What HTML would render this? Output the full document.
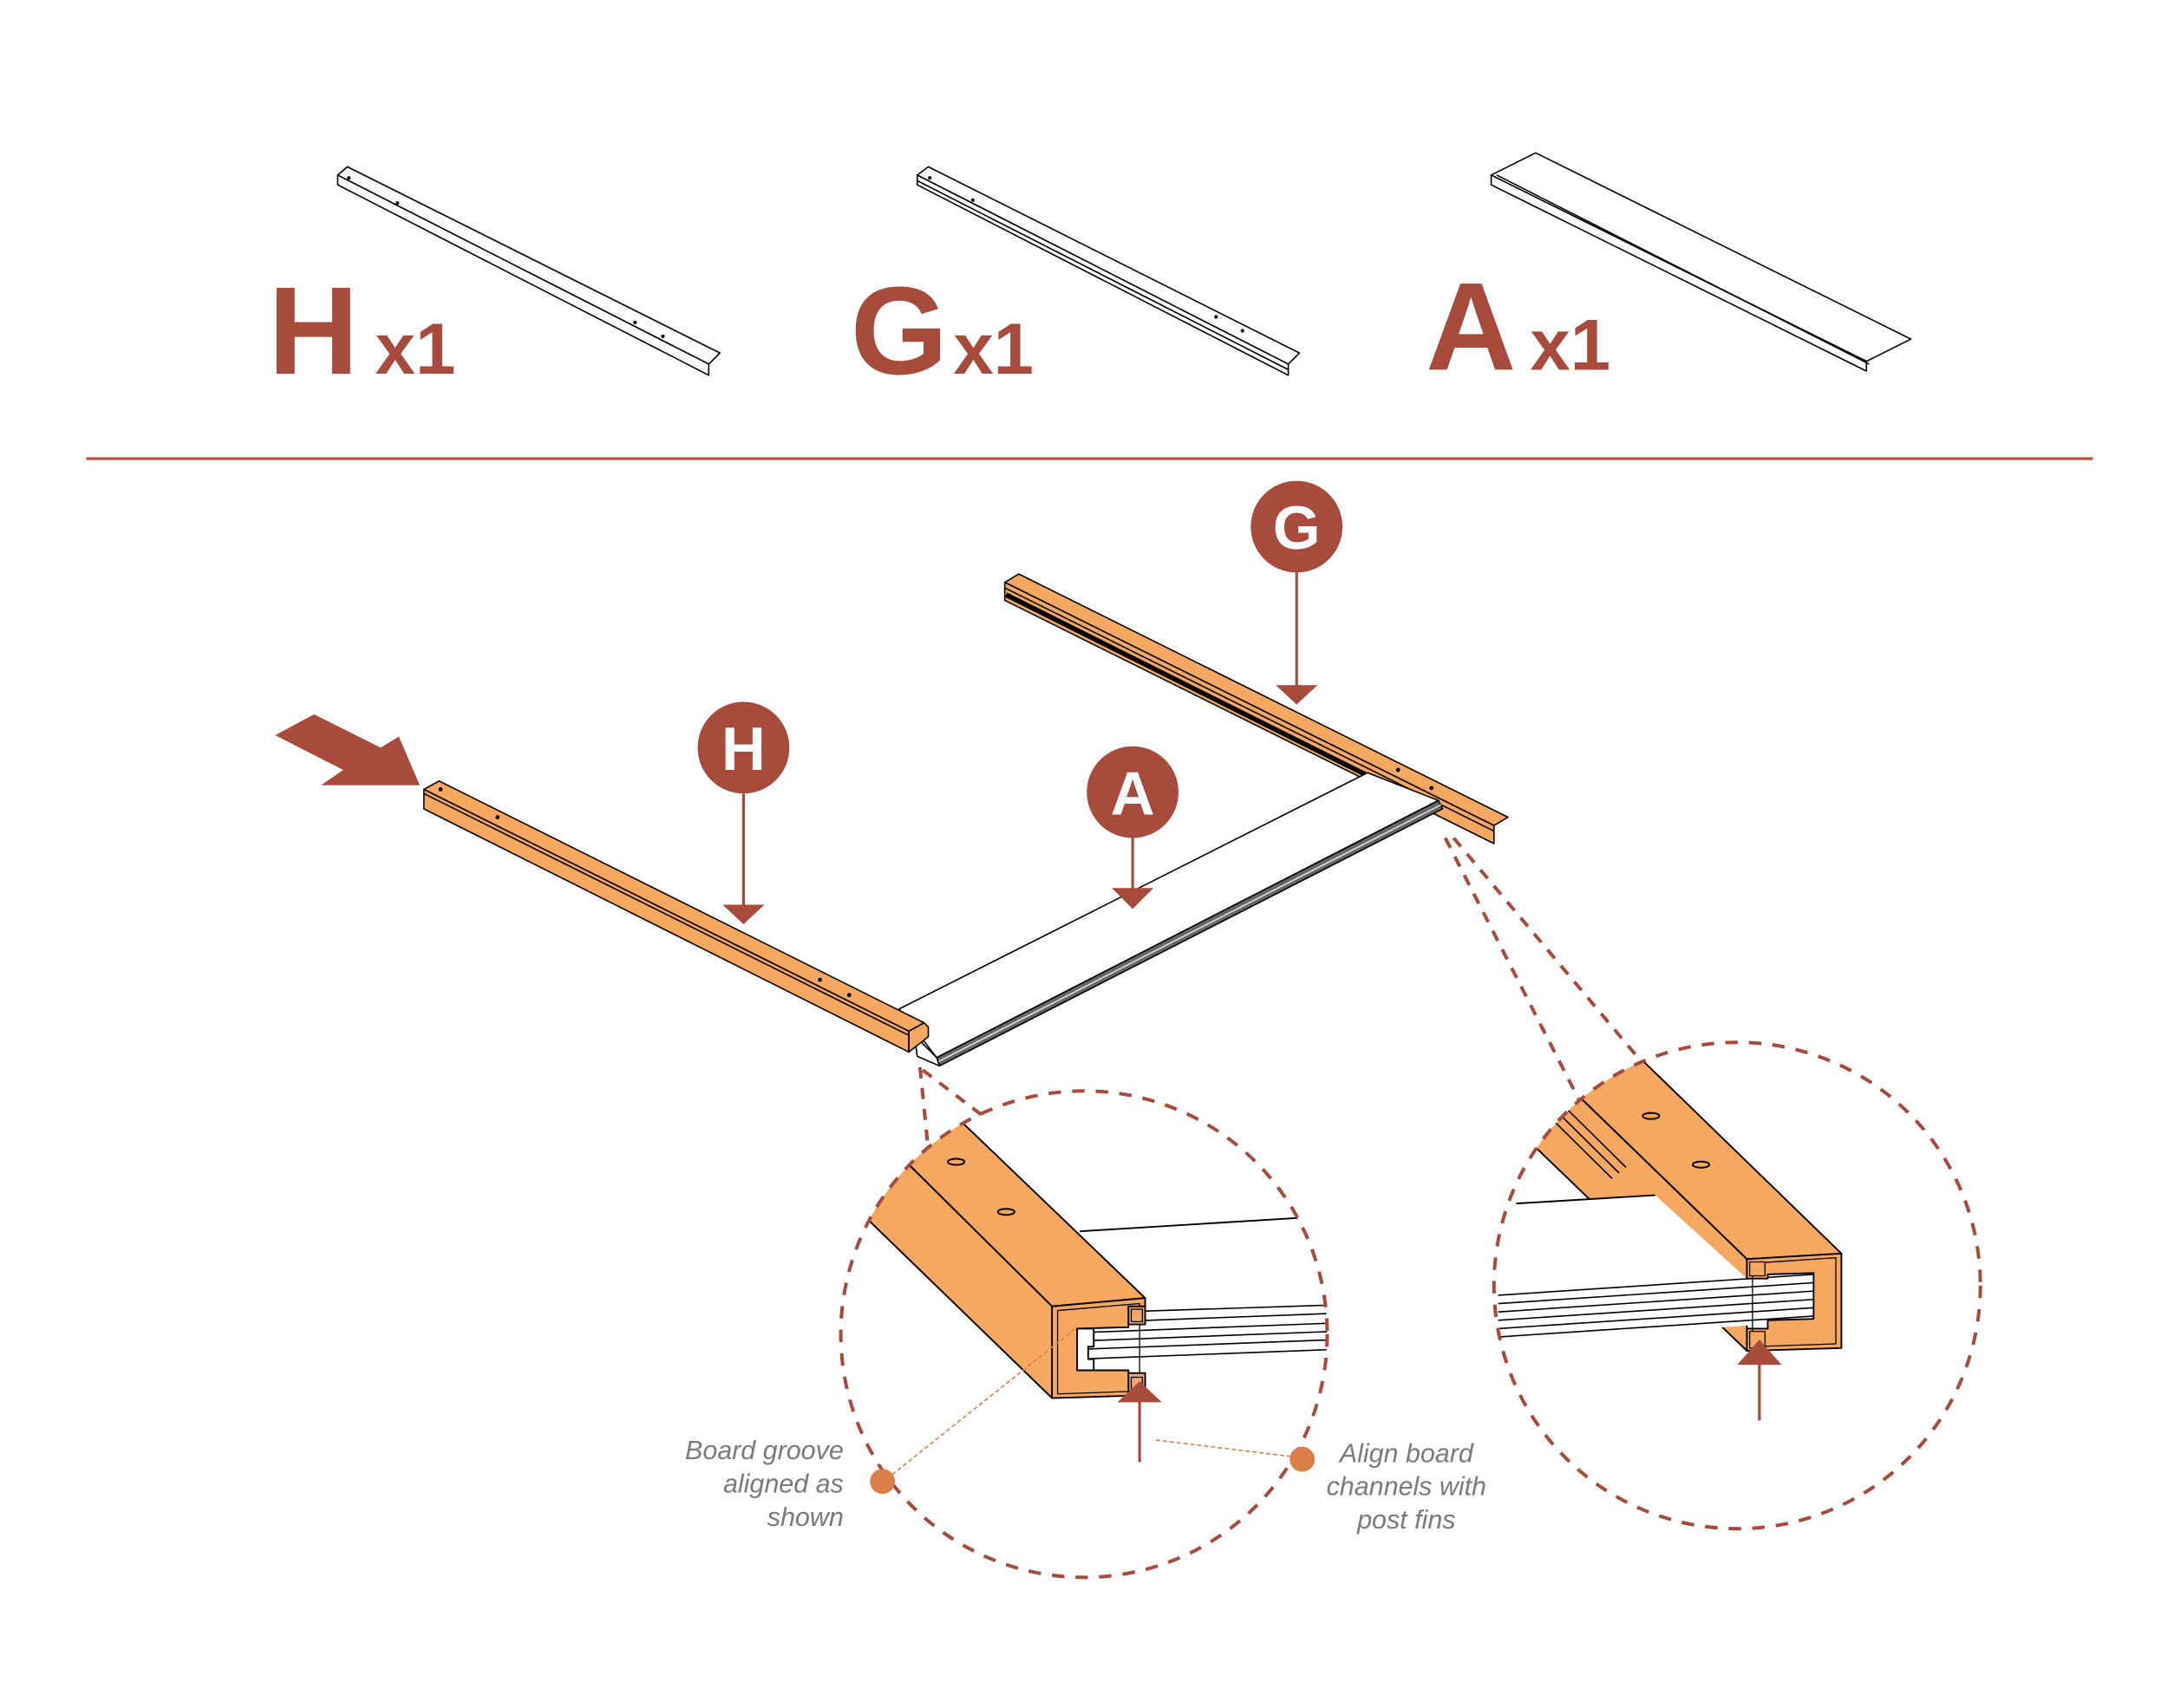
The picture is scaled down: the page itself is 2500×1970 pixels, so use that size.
<!DOCTYPE html>
<html><head><meta charset="utf-8"><style>
html,body{margin:0;padding:0;background:#fff;}
svg{display:block;}
</style></head><body>
<svg width="2500" height="1970" viewBox="0 0 1560 1229" preserveAspectRatio="none" xmlns="http://www.w3.org/2000/svg">
<defs>
<clipPath id="cl"><circle cx="780" cy="960" r="175"/></clipPath>
<clipPath id="cr"><circle cx="1250" cy="925" r="175"/></clipPath>
</defs>
<g font-family="'Liberation Sans', sans-serif" font-weight="bold" fill="#a84a3c">
<text x="193" y="269" font-size="90">H</text>
<text x="270" y="269" font-size="52">x1</text>
<text x="612" y="269" font-size="90">G</text>
<text x="686" y="269" font-size="52">x1</text>
<text x="1026" y="266" font-size="90">A</text>
<text x="1101" y="266" font-size="52">x1</text>
</g>
<!-- top parts -->
<g fill="#fff" stroke="#000" stroke-width="1" stroke-linejoin="round">
<polygon points="250,120 518,254 510,262 243,126"/>
<polygon points="243,126 510,262 510,270 243,133"/>
<polygon points="668,120 935,254 927,262 660,126"/>
<polygon points="660,126 927,262 927,270 660,133"/>
<line x1="660" y1="130" x2="927" y2="266"/>
<polygon points="1073,126 1105,110 1375,244 1343,260"/>
<polygon points="1073,126 1343,260 1343,267 1073,133"/>
<line x1="1077" y1="126" x2="1345" y2="262"/>
</g>
<g fill="#000"><circle cx="251" cy="128" r="1.3"/><circle cx="286" cy="146" r="1.3"/><circle cx="457" cy="232" r="1.3"/><circle cx="477" cy="242" r="1.3"/>
<circle cx="669" cy="128" r="1.3"/><circle cx="700" cy="144" r="1.3"/><circle cx="875" cy="228" r="1.3"/><circle cx="894" cy="238" r="1.3"/></g>
<line x1="62" y1="330" x2="1506" y2="330" stroke="#b5533f" stroke-width="2"/>

<!-- dashed connectors -->
<g stroke="#a84a3c" stroke-width="2.5" stroke-dasharray="8,7" fill="none">
<line x1="662" y1="768" x2="668" y2="828"/>
<line x1="664" y1="770" x2="706" y2="802"/>
<line x1="1040" y1="603" x2="1138" y2="795"/>
<line x1="1046" y1="603" x2="1182" y2="765"/>
</g>

<!-- G bar -->
<g stroke="#000" stroke-width="1" stroke-linejoin="round">
<polygon points="733,413 1085,588 1075,594 723,419" fill="#f6a760"/>
<polygon points="723,419 1075,594 1075,607 723,432" fill="#f6a760"/>
<line x1="724" y1="428" x2="988" y2="560" stroke-width="3.5"/>
<line x1="723" y1="423" x2="1075" y2="598"/>
</g>
<!-- board A -->
<g stroke="#000" stroke-width="1" stroke-linejoin="round">
<polygon points="647,726 984,556 1035,576 674,761" fill="#fff"/>
<polygon points="674,761 1035,576 1038,582 676,767" fill="#666"/>
<line x1="675" y1="764" x2="1037" y2="579" stroke="#ddd"/>
<polygon points="658,745 674,761 676,767 660,760" fill="#fff"/>
</g>
<!-- H bar -->
<g stroke="#000" stroke-width="1" stroke-linejoin="round">
<polygon points="316,562 665,736 654,742 305,568" fill="#f6a760"/>
<polygon points="305,568 654,742 654,757 305,582" fill="#f6a760"/>
<line x1="305" y1="571" x2="654" y2="745"/>
<polygon points="665,736 668,739 668,746 654,757 654,742" fill="#f6a760"/>
</g>
<g fill="#000"><circle cx="317" cy="568" r="1.5"/><circle cx="358" cy="588" r="1.5"/><circle cx="590" cy="705" r="1.5"/><circle cx="611" cy="716" r="1.5"/>
<circle cx="1006" cy="554" r="1.5"/><circle cx="1030" cy="567" r="1.5"/></g>

<!-- big arrow -->
<polygon points="226,514 274,538 287,530 302,565 231,565 247,554 198,529" fill="#a84a3c"/>

<!-- label circles -->
<g fill="#a84a3c">
<circle cx="933" cy="379" r="33"/>
<circle cx="535" cy="538" r="33"/>
<circle cx="815" cy="570" r="33"/>
<polygon points="918,493 948,493 933,507"/>
<polygon points="520,651 550,651 535,665"/>
<polygon points="800,639 830,639 815,654"/>
</g>
<g stroke="#a84a3c" stroke-width="2">
<line x1="933" y1="412" x2="933" y2="494"/>
<line x1="535" y1="571" x2="535" y2="652"/>
<line x1="815" y1="603" x2="815" y2="640"/>
</g>
<g font-family="'Liberation Sans', sans-serif" font-weight="bold" fill="#fff" font-size="44" text-anchor="middle">
<text x="933" y="395">G</text>
<text x="535" y="554">H</text>
<text x="815" y="586">A</text>
</g>

<!-- left zoom circle -->
<g clip-path="url(#cl)" stroke="#000" stroke-width="1.2" stroke-linejoin="round">
<polygon points="600,719 824,934 757,940 560,745" fill="#f6a760"/>
<polygon points="560,745 757,940 757,1006 560,815" fill="#f6a760"/>
<line x1="777" y1="886" x2="940" y2="876"/>
<polygon points="775,946 960,938 960,974 775,986" fill="#fff" stroke="none"/>
<g stroke-width="1"><line x1="775" y1="945" x2="960" y2="939"/><line x1="775" y1="952" x2="960" y2="945"/><line x1="775" y1="959" x2="960" y2="952"/><line x1="775" y1="965" x2="960" y2="958"/><line x1="775" y1="971" x2="960" y2="964"/><line x1="775" y1="978" x2="960" y2="971"/></g>
<path d="M757,940 L824,934 L824,950 L812,951 L812,955 L775,956 L775,986 L812,986 L812,990 L824,990 L824,1004 L757,1006 Z" fill="#f6a760"/>
<path d="M761,943 L820,938 L820,1001 L761,1003 Z" fill="none" stroke-width="0.8"/>
<rect x="812" y="940" width="12" height="13" fill="#f6a760"/>
<rect x="814" y="942" width="8" height="9" fill="#f6a760" stroke-width="0.8"/>
<rect x="812" y="988" width="12" height="14" fill="#f6a760"/>
<rect x="814" y="991" width="8" height="9" fill="#f6a760" stroke-width="0.8"/>
<path d="M775,956 L787,956 L787,969 L783,969 L783,978 L787,978 L787,986 L775,986 Z" fill="#fff"/>
<ellipse cx="688" cy="836" rx="6" ry="2.2" fill="none"/>
<ellipse cx="724" cy="872" rx="6" ry="2.2" fill="none"/>
</g>
<circle cx="780" cy="960" r="175" fill="none" stroke="#a84a3c" stroke-width="2.5" stroke-dasharray="9,8"/>
<polygon points="820,994 836,1009 804,1009" fill="#a84a3c"/>
<line x1="820" y1="1008" x2="820" y2="1052" stroke="#a84a3c" stroke-width="2"/>

<!-- right zoom circle -->
<g clip-path="url(#cr)" stroke="#000" stroke-width="1.2" stroke-linejoin="round">
<polygon points="1050,635 1325,902 1257,906 1000,657" fill="#f6a760"/>
<polygon points="1000,657 1257,906 1257,972 959,685" fill="#f6a760"/>
<g stroke-width="1"><line x1="1000" y1="672" x2="1170" y2="840"/><line x1="995" y1="676" x2="1165" y2="844"/><line x1="990" y1="680" x2="1160" y2="848"/></g>
<polygon points="1076,867 1191,860 1257,920 1305,916 1305,950 1076,968" fill="#fff" stroke="none"/>
<line x1="1091" y1="866" x2="1191" y2="860"/>
<g stroke-width="1"><line x1="1078" y1="932" x2="1305" y2="917"/><line x1="1078" y1="938" x2="1305" y2="923"/><line x1="1078" y1="944" x2="1305" y2="929"/><line x1="1078" y1="950" x2="1305" y2="935"/><line x1="1078" y1="956" x2="1305" y2="941"/><line x1="1078" y1="962" x2="1305" y2="947"/></g>
<path d="M1257,906 L1325,902 L1325,970 L1257,972 L1257,956 L1272,956 L1272,950 L1305,949 L1305,916 L1272,917 L1272,920 L1257,920 Z" fill="#f6a760"/>
<path d="M1261,909 L1321,905 L1321,967 L1261,969 Z" fill="none" stroke-width="0.8"/>
<rect x="1259" y="908" width="11" height="10" fill="#f6a760" stroke-width="0.8"/>
<rect x="1259" y="958" width="11" height="12" fill="#f6a760" stroke-width="0.8"/>
<ellipse cx="1188" cy="803" rx="6" ry="2.2" fill="none"/>
<ellipse cx="1224" cy="838" rx="6" ry="2.2" fill="none"/>
</g>
<circle cx="1250" cy="925" r="175" fill="none" stroke="#a84a3c" stroke-width="2.5" stroke-dasharray="9,8"/>
<polygon points="1266,964 1282,982 1250,982" fill="#a84a3c"/>
<line x1="1266" y1="980" x2="1266" y2="1022" stroke="#a84a3c" stroke-width="2"/>

<!-- callouts -->
<g stroke="#d97f47" stroke-width="1" stroke-dasharray="3,2" fill="none">
<line x1="642" y1="1061" x2="775" y2="955"/>
<line x1="929" y1="1048" x2="830" y2="1036"/>
</g>
<circle cx="635" cy="1066" r="9" fill="#d97f47"/>
<circle cx="937" cy="1050" r="9" fill="#d97f47"/>
<g font-family="'Liberation Sans', sans-serif" font-style="italic" fill="#7a7a7a" font-size="19">
<text text-anchor="end" x="607" y="1050">Board groove</text>
<text text-anchor="end" x="607" y="1074">aligned as</text>
<text text-anchor="end" x="607" y="1098">shown</text>
<text text-anchor="middle" x="1012" y="1052">Align board</text>
<text text-anchor="middle" x="1012" y="1076">channels with</text>
<text text-anchor="middle" x="1012" y="1100">post fins</text>
</g>
</svg>
</body></html>
